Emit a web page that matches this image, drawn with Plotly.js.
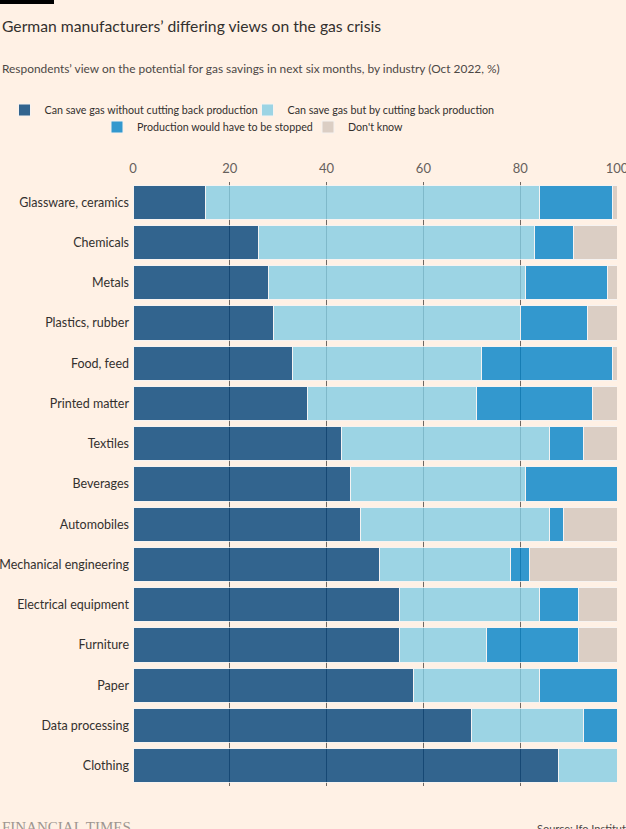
<!DOCTYPE html>
<html>
<head>
<meta charset="utf-8">
<script src="https://cdn.plot.ly/plotly-3.0.1.min.js"></script>
<style>
html,body{margin:0;padding:0;background:#fff1e5;}
#chart{width:626px;height:829px;}
</style>
</head>
<body>
<div id="chart"></div>
<script>
const industries = ["Glassware, ceramics","Chemicals","Metals","Plastics, rubber","Food, feed","Printed matter","Textiles","Beverages","Automobiles","Mechanical engineering","Electrical equipment","Furniture","Paper","Data processing","Clothing"];
const saveWithoutCut = [15,26,28,29,33,36,43,45,47,51,55,55,58,70,88];
const saveByCut      = [69,57,53,51,39,35,43,36,39,27,29,18,26,23,12];
const stopped        = [15, 8,17,14,27,24, 7,19, 3, 4, 8,19,16, 7, 0];
const dontKnow       = [ 1, 9, 2, 6, 1, 5, 7, 0,11,18, 8, 8, 0, 0, 0];
const seriesNames = ["Can save gas without cutting back production","Can save gas but by cutting back production","Production would have to be stopped","Don't know"];
const seriesColors = ["#004179","#84cee4","#0183c9","#d3c6bc"];
const seriesValues = [saveWithoutCut, saveByCut, stopped, dontKnow];
const legendIds = ["legend","legend3","legend2","legend2"];

const FONT = "Lato, 'Open Sans', sans-serif";

const traces = seriesValues.map((vals, i) => ({
  type: "bar",
  orientation: "h",
  name: seriesNames[i],
  legend: legendIds[i],
  y: industries,
  x: vals,
  opacity: 0.8,
  marker: {color: seriesColors[i], line: {color: "#f4f4f4", width: 1}},
  hoverinfo: "x+y+name"
}));

// plot area pixels: x 133..617, y 182..786
const PL = 133, PR = 617, PT = 182, PB = 786;
const px = X => (X - PL) / (PR - PL);
const py = Y => (PB - Y) / (PB - PT);

const legendBase = {
  orientation: "h", xref: "paper", xanchor: "left",
  yref: "paper", yanchor: "middle",
  font: {family: FONT, size: 10.7, color: "#33302e"},
  traceorder: "normal", itemclick: false, tracegroupgap: 0,
  bgcolor: "rgba(0,0,0,0)", borderwidth: 0
};

const layout = {
  width: 626, height: 829,
  paper_bgcolor: "#fff1e5", plot_bgcolor: "#fff1e5",
  margin: {l: PL, r: 626 - PR, t: PT, b: 829 - PB, autoexpand: false},
  barmode: "stack",
  bargap: 0.15,
  showlegend: true,
  legend: Object.assign({}, legendBase, {x: px(4.5), y: py(110)}),
  legend3: Object.assign({}, legendBase, {x: px(247.5), y: py(110)}),
  legend2: Object.assign({}, legendBase, {x: px(97), y: py(127), entrywidth: 166}),
  xaxis: {
    side: "top", range: [0, 100], tickvals: [0,20,40,60,80,100],
    showgrid: true, gridcolor: "#6f6863", gridwidth: 1,
    zeroline: false, showline: false, ticks: "",
    tickfont: {family: FONT, size: 13, color: "#66605c"},
    ticklabelstandoff: 5, ticklabeloverflow: "allow",
    fixedrange: true
  },
  yaxis: {
    autorange: "reversed", showgrid: false, zeroline: false, ticks: "",
    tickfont: {family: FONT, size: 12.5, color: "#33302e"},
    ticklabelstandoff: 3,
    fixedrange: true
  },
  font: {family: FONT},
  shapes: [{
    type: "rect", xref: "paper", yref: "paper",
    x0: px(0), x1: px(54), y0: py(4), y1: py(0),
    fillcolor: "#000000", line: {width: 0}
  }],
  annotations: [
    {text: "German manufacturers’ differing views on the gas crisis", xref: "paper", yref: "paper",
     x: px(0), y: py(26), xanchor: "left", yanchor: "middle", showarrow: false,
     font: {family: FONT, size: 15.7, color: "#33302e"}},
    {text: "Respondents’ view on the potential for gas savings in next six months, by industry (Oct 2022, %)", xref: "paper", yref: "paper",
     x: px(0), y: py(68), xanchor: "left", yanchor: "middle", showarrow: false,
     font: {family: FONT, size: 11.9, color: "#4d4845"}},
    {text: "FINANCIAL TIMES", xref: "paper", yref: "paper",
     x: px(0), y: py(827), xanchor: "left", yanchor: "middle", showarrow: false,
     font: {family: "'Liberation Serif', 'DejaVu Serif', serif", size: 15, color: "#9e9690"}},
    {text: "Source: Ifo Institute", xref: "paper", yref: "paper",
     x: px(535), y: py(828), xanchor: "left", yanchor: "middle", showarrow: false,
     font: {family: FONT, size: 11, color: "#4d4845"}}
  ]
};

Plotly.newPlot("chart", traces, layout, {displayModeBar: false, staticPlot: true});
</script>
</body>
</html>
